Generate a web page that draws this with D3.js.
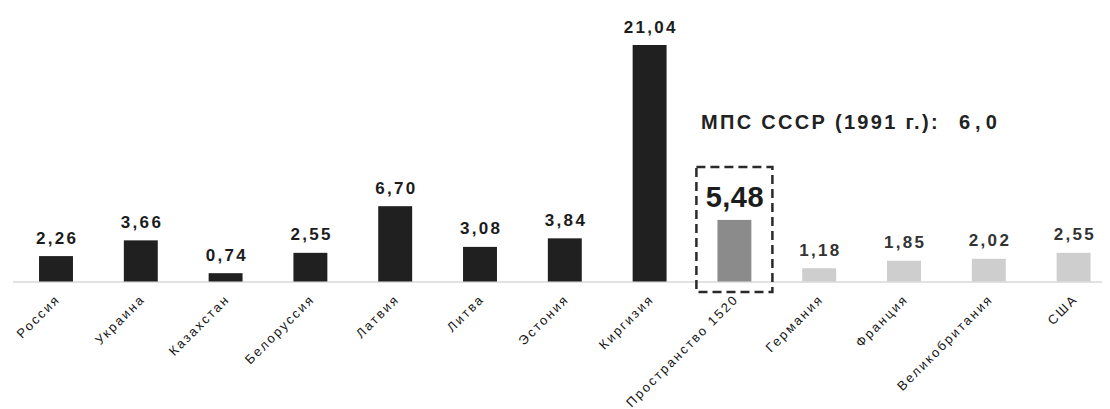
<!DOCTYPE html>
<html>
<head>
<meta charset="utf-8">
<script src="https://cdn.jsdelivr.net/npm/d3@7"></script>
<style>
  html, body { margin: 0; padding: 0; background: #fff; }
  svg { display: block; }
</style>
</head>
<body>
<svg id="chart" width="1110" height="409"></svg>
<script>
// Categories and values
const categories = [
  "Россия", "Украина", "Казахстан", "Белоруссия", "Латвия", "Литва",
  "Эстония", "Киргизия", "Пространство 1520", "Германия", "Франция",
  "Великобритания", "США"
];
const values = [2.26, 3.66, 0.74, 2.55, 6.70, 3.08, 3.84, 21.04, 5.48, 1.18, 1.85, 2.02, 2.55];
// Group of each bar: 0 = post-Soviet countries, 1 = 1520 space total, 2 = foreign railways
const groups = [0, 0, 0, 0, 0, 0, 0, 0, 1, 2, 2, 2, 2];
const highlighted = "Пространство 1520";
const referenceLabel = "МПС СССР (1991 г.):";
const referenceValue = 6.0;

const W = 1110, H = 409;
const baseY = 281.5;
const svg = d3.select("#chart");

const fmt = v => d3.format(".2f")(v).replace(".", ",");

const x = d3.scaleBand()
  .domain(categories)
  .range([13.6, 1116])
  .paddingInner(0.6)
  .paddingOuter(0.3);

const y = d3.scaleLinear()
  .domain([0, 21.04])
  .range([baseY, 45]);

const fills = ["#202020", "#8b8b8b", "#cecece"];
const data = categories.map((c, i) => ({ c, v: values[i], g: groups[i] }));

// baseline
svg.append("line")
  .attr("x1", 13).attr("x2", W - 8)
  .attr("y1", baseY + 0.5).attr("y2", baseY + 0.5)
  .attr("stroke", "#d8d8d8").attr("stroke-width", 1.5);

// bars
svg.append("g").selectAll("rect").data(data).join("rect")
  .attr("x", d => x(d.c))
  .attr("y", d => y(d.v))
  .attr("width", x.bandwidth())
  .attr("height", d => baseY - y(d.v))
  .attr("fill", d => fills[d.g]);

// value labels
svg.append("g").selectAll("text").data(data).join("text")
  .attr("x", d => x(d.c) + x.bandwidth() / 2 + (d.c === highlighted ? 0.5 : 1.2))
  .attr("y", d => y(d.v) - (d.c === highlighted ? 13 : 12.5))
  .attr("text-anchor", "middle")
  .attr("font-family", "'Liberation Sans', Arial, sans-serif")
  .attr("font-weight", "bold")
  .attr("font-size", d => d.c === highlighted ? 29 : 17)
  .attr("letter-spacing", d => d.c === highlighted ? 0.5 : 2.3)
  .attr("fill", d => d.g === 2 ? "#333" : "#1c1c1c")
  .text(d => fmt(d.v));

// dashed frame around the highlighted bar
const hx = x(highlighted) + x.bandwidth() / 2;
const hTop = y(values[categories.indexOf(highlighted)]) - 53;
svg.append("rect")
  .attr("x", hx - 38).attr("y", hTop)
  .attr("width", 76).attr("height", baseY + 10.5 - hTop)
  .attr("fill", "none")
  .attr("stroke", "#2a2a2a")
  .attr("stroke-width", 2.5)
  .attr("stroke-dasharray", "9,5");

// reference value for the USSR Ministry of Railways
const ref = svg.append("g")
  .attr("font-family", "'Liberation Sans', Arial, sans-serif")
  .attr("font-weight", "bold")
  .attr("font-size", 20)
  .attr("fill", "#222");
ref.append("text")
  .attr("x", 701).attr("y", 129)
  .attr("letter-spacing", 2.3)
  .text(referenceLabel);
ref.append("text")
  .attr("x", 959).attr("y", 129)
  .attr("letter-spacing", 5)
  .text(d3.format(".1f")(referenceValue).replace(".", ","));

// rotated category labels
svg.append("g").selectAll("text").data(data).join("text")
  .attr("transform", d => `translate(${x(d.c) + x.bandwidth() / 2 + 5},${300}) rotate(-45)`)
  .attr("text-anchor", "end")
  .attr("font-family", "'Liberation Sans', Arial, sans-serif")
  .attr("font-size", 13)
  .attr("letter-spacing", 2.1)
  .attr("fill", "#161616")
  .text(d => d.c);
</script>
</body>
</html>
